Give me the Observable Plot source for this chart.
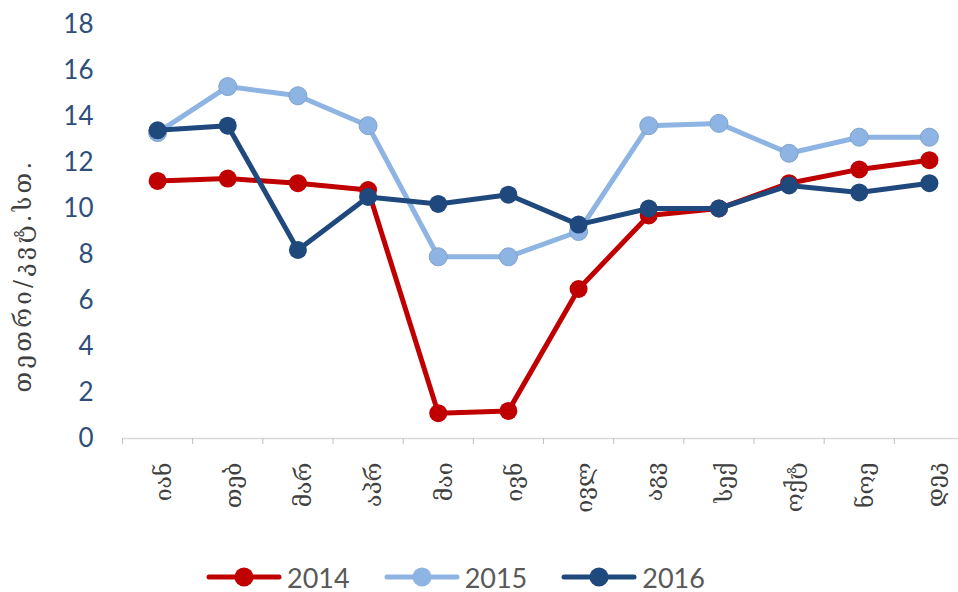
<!DOCTYPE html>
<html>
<head>
<meta charset="utf-8">
<script src="https://cdn.jsdelivr.net/npm/d3@7"></script>
<script src="https://cdn.jsdelivr.net/npm/@observablehq/plot@0.6"></script>
<style>
  html, body { margin: 0; padding: 0; background: #fff; width: 958px; height: 592px; overflow: hidden; }
  #chart { position: relative; width: 958px; height: 592px; }
  #legend { position: absolute; left: 0; top: 560px; width: 958px; height: 34px; box-sizing: border-box; padding-left: 206px; display: flex; justify-content: flex-start; align-items: center; font-family: Lato, "Open Sans", sans-serif; font-size: 27px; line-height: 1; color: #595959; }
  .item { display: flex; align-items: center; margin-right: 34px; }
  .item span { margin-left: 5px; line-height: 1; }
  g[aria-label="text"] text { letter-spacing: 3.3px; }
</style>
</head>
<body>
<div id="chart"></div>
<script>
const months = ["იან","თებ","მარ","აპრ","მაი","ივნ","ივლ","აგვ","სექ","ოქტ","ნოე","დეკ"];
const series = ["2014","2015","2016"];
const v2014 = [11.2, 11.3, 11.1, 10.8, 1.1, 1.2, 6.5, 9.7, 10.0, 11.1, 11.7, 12.1];
const v2015 = [13.3, 15.3, 14.9, 13.6, 7.9, 7.9, 9.0, 13.6, 13.7, 12.4, 13.1, 13.1];
const v2016 = [13.4, 13.6, 8.2, 10.5, 10.2, 10.6, 9.3, 10.0, 10.0, 11.0, 10.7, 11.1];
const yTicks = [0, 2, 4, 6, 8, 10, 12, 14, 16, 18];
const yLabel = "თეთრი/კვტ.სთ.";
const colors = ["#C00000", "#8DB4E2", "#1F497D"];

const valuesBySeries = [v2014, v2015, v2016];
const data = [];
series.forEach((s, k) => valuesBySeries[k].forEach((v, i) => data.push({series: s, i, v})));
const bounds = d3.range(months.length + 1).map(i => i - 0.5);

const marks = [
  Plot.ruleY([0], {stroke: "#D9D9D9", strokeWidth: 1.3}),
  Plot.axisX({ticks: bounds, tickSize: 6, tickFormat: () => "", stroke: "#BFBFBF", label: null}),
  Plot.axisX({ticks: d3.range(months.length), tickSize: 0, tickPadding: 24, tickRotate: -90, dx: 6,
    tickFormat: i => months[i], label: null, fontSize: 23, fontFamily: "DejaVu Serif, DejaVu Sans", fill: "#404040"}),
  Plot.axisY({ticks: yTicks, tickSize: 0, tickPadding: 29, label: null, fontSize: 26,
    fontFamily: "Lato, Open Sans, sans-serif", fill: "#2E4F7A"}),
  Plot.text([yLabel], {text: d => d, frameAnchor: "left", textAnchor: "middle", rotate: -90, dx: -99, dy: 44,
    fontSize: 24, fontFamily: "DejaVu Serif, DejaVu Sans", fill: "#404040"})
];
series.forEach((s, k) => {
  const d = data.filter(r => r.series === s);
  marks.push(Plot.line(d, {x: "i", y: "v", stroke: colors[k], strokeWidth: 5, strokeLinejoin: "round", strokeLinecap: "round"}));
  marks.push(Plot.dot(d, {x: "i", y: "v", r: 9, fill: colors[k], stroke: k === 1 ? "#7FA2CE" : "none", strokeWidth: 1}));
});

const plot = Plot.plot({
  width: 958,
  height: 550,
  marginTop: 24,
  marginBottom: 112,
  marginLeft: 122,
  marginRight: 0,
  style: {background: "#fff", overflow: "visible"},
  x: {type: "linear", domain: [-0.5, 11.5], range: [122, 964], axis: null, label: null},
  y: {domain: [0, 18], axis: null, label: null},
  marks
});
const chart = document.getElementById("chart");
chart.appendChild(plot);

const legend = document.createElement("div");
legend.id = "legend";
series.forEach((s, k) => {
  const item = document.createElement("div");
  item.className = "item";
  item.innerHTML = `<svg width="76" height="24"><line x1="3" y1="12" x2="73" y2="12" stroke="${colors[k]}" stroke-width="5" stroke-linecap="round"/><circle cx="38" cy="12" r="9.5" fill="${colors[k]}"/></svg><span>${s}</span>`;
  legend.appendChild(item);
});
chart.appendChild(legend);
</script>
</body>
</html>
